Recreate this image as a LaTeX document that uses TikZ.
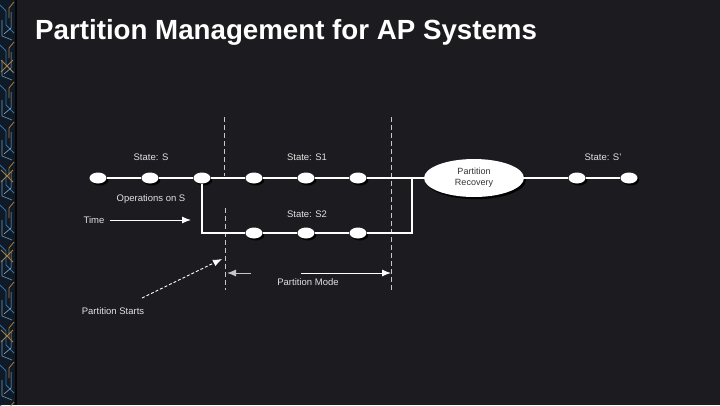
\documentclass[tikz,border=0pt]{standalone}
\usepackage{fontspec}
\setmainfont{Liberation Sans}
\usetikzlibrary{arrows.meta,shapes.geometric,shadows}
\definecolor{bg}{RGB}{28,27,32}
\definecolor{strip}{RGB}{16,26,38}
\definecolor{cblue}{RGB}{45,115,165}
\definecolor{corange}{RGB}{170,125,60}
\definecolor{lbl}{RGB}{225,225,225}
\definecolor{dash}{RGB}{200,200,200}
\begin{document}
\begin{tikzpicture}[x=1pt,y=-1pt,
  dot/.style={ellipse,fill=white,minimum width=17pt,minimum height=11pt,inner sep=0pt,
    drop shadow={shadow xshift=1.8pt,shadow yshift=-2pt,fill=black,opacity=0.95}},
  wire/.style={draw=white,line width=1.2pt},
  vdash/.style={draw=dash,line width=1pt,dash pattern=on 5pt off 3pt},
  lab/.style={text=lbl,font=\fontsize{9.5}{11}\selectfont,inner sep=0pt},
  arr/.style={draw=white,line width=1pt,-{Latex[length=9pt,width=7pt]}},
]
\useasboundingbox (0,0) rectangle (720,405);
\fill[bg] (0,0) rectangle (720,405);
% decorative left strip
\fill[strip] (0,0) rectangle (15,405);
\fill[black!80!bg] (15,0) rectangle (17,405);
\begin{scope}
\clip (0,0) rectangle (15,405);
\foreach \y in {0,40,...,400}{
  \draw[cblue,line width=0.8pt] (0,\y+5) -- (6,\y+11) -- (6,\y+25) -- (14,\y+33);
  \draw[corange,line width=0.8pt] (14,\y+2) -- (9,\y+8) -- (9,\y+18);
  \draw[cblue!70,line width=0.6pt] (2,\y+20) -- (2,\y+36) -- (12,\y+40);
  \draw[cblue!50,line width=0.5pt] (11,\y+12) -- (11,\y+28) -- (4,\y+34);
}
\foreach \y in {60,170,250,330}{
  \draw[corange,line width=1pt] (1,\y) -- (13,\y+12) (1,\y+12) -- (13,\y);
}
\end{scope}
% title
\node[anchor=base west,text=white,font=\fontsize{27.7}{32}\selectfont\bfseries,inner sep=0pt]
  (title) at (35,39) {Partition Management for AP Systems};
% dashed partition markers
\draw[vdash] (224,117) -- (224,176);
\draw[vdash] (225,208) -- (225,290);
\draw[vdash] (391,117) -- (391,290);
% nodes
\node[dot] (d1) at (98,178) {};
\node[dot] (d2) at (150,178) {};
\node[dot] (d3) at (202,178) {};
\node[dot] (d4) at (254,178) {};
\node[dot] (d5) at (306,178) {};
\node[dot] (d6) at (358,178) {};
\node[dot] (b1) at (254,233) {};
\node[dot] (b2) at (306,233) {};
\node[dot] (b3) at (358,233) {};
\node[ellipse,fill=white,minimum width=100pt,minimum height=38pt,inner sep=0pt,
  align=center,font=\fontsize{9}{11}\selectfont,text=black!80,
  drop shadow={shadow xshift=1.8pt,shadow yshift=-2.2pt,fill=black,opacity=0.95}]
  (rec) at (474,178) {Partition\\Recovery};
\node[dot] (r1) at (577,178) {};
\node[dot] (r2) at (629,178) {};
\coordinate (j1) at (412,178);
\coordinate (j2) at (412,233);
% connectors
\path[wire] (d1) -- (d2) (d2) -- (d3) (d3) -- (d4) (d4) -- (d5) (d5) -- (d6)
  (d6) -- (rec.west) (rec.east) -- (r1) (r1) -- (r2);
\path[wire] (d3.south) |- (b1);
\path[wire] (b1) -- (b2) (b2) -- (b3) (b3) -- (j2) -- (j1);
% labels
\node[lab] (ls) at (151,157) {State: S};
\node[lab] (ls1) at (307,157) {State: S1};
\node[lab] (ls2) at (307,214) {State: S2};
\node[lab] (lsp) at (603,157) {State: S'};
\node[lab] (lops) at (151,199) {Operations on S};
\node[lab] (ltime) at (94,220) {Time};
\coordinate (tend) at (191,220);
\draw[arr] (ltime.east) ++(5,0) -- (tend);
\node[lab] (lstart) at (113,311) {Partition Starts};
\coordinate (pstip) at (222,259);
\draw[white,line width=0.9pt,dash pattern=on 3pt off 2pt,-{Latex[length=9pt,width=7pt]}]
  (142,298) -- (pstip);
\node[lab] (lmode) at (308,282) {Partition Mode};
\coordinate (ml) at (227,273);
\coordinate (mr) at (391,273);
\draw[draw=white!75!bg,line width=1pt,-{Latex[length=9pt,width=7pt]}] (251,273) -- (ml);
\draw[arr] (301,273) -- (mr);
\end{tikzpicture}
\end{document}
